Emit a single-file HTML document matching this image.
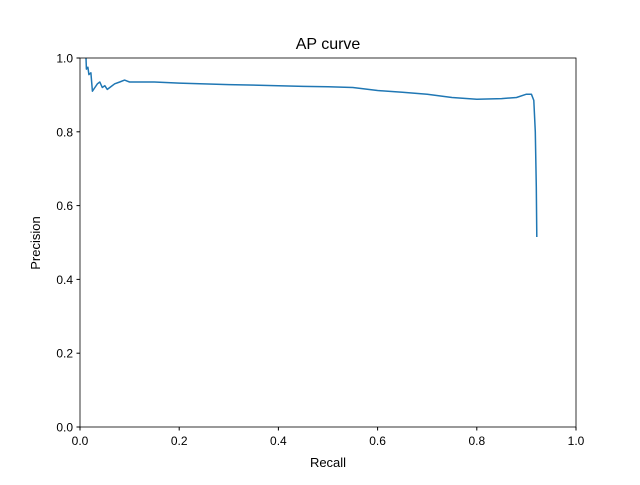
<!DOCTYPE html>
<html><head><meta charset="utf-8"><style>
body{margin:0;background:#fff}
svg text{font-family:"Liberation Sans","DejaVu Sans",sans-serif;fill:#000}
</style></head><body>
<svg id="chart" width="640" height="480" xmlns="http://www.w3.org/2000/svg">
<rect width="640" height="480" fill="#fff"/>
<g id="ticks"></g>
<path id="curve" fill="none" stroke="#1f77b4" stroke-width="1.5" stroke-linejoin="round"/>
<rect x="80" y="58" width="496" height="369" fill="none" stroke="#000" stroke-width="0.8"/>
<text x="328" y="49" font-size="16" text-anchor="middle">AP curve</text>
<text x="328" y="467" font-size="13" text-anchor="middle">Recall</text>
<text transform="translate(40,243) rotate(-90)" font-size="13" text-anchor="middle">Precision</text>
</svg>
<script>
const recall=[0.012,0.013,0.016,0.018,0.022,0.025,0.03,0.035,0.04,0.045,0.05,0.055,0.06,0.07,0.08,0.09,0.1,0.15,0.2,0.3,0.4,0.45,0.5,0.55,0.6,0.65,0.7,0.75,0.8,0.85,0.88,0.9,0.91,0.915,0.918,0.92,0.921];
const precision=[1.0,0.97,0.975,0.955,0.96,0.91,0.92,0.93,0.935,0.92,0.925,0.915,0.92,0.93,0.935,0.94,0.935,0.935,0.932,0.928,0.925,0.923,0.922,0.92,0.912,0.907,0.902,0.893,0.888,0.89,0.893,0.902,0.902,0.885,0.8,0.65,0.515];
const tickVals=[0,0.2,0.4,0.6,0.8,1.0];
const tickLabels=["0.0","0.2","0.4","0.6","0.8","1.0"];
const X=v=>80+v*496, Y=v=>427-v*369;
document.getElementById('curve').setAttribute('d',recall.map((r,i)=>(i?'L':'M')+X(r).toFixed(1)+','+Y(precision[i]).toFixed(1)).join(''));
const g=document.getElementById('ticks');const ns='http://www.w3.org/2000/svg';
tickVals.forEach((v,i)=>{
 let l=document.createElementNS(ns,'line');l.setAttribute('x1',X(v));l.setAttribute('x2',X(v));l.setAttribute('y1',427);l.setAttribute('y2',430.5);l.setAttribute('stroke','#000');
 
 g.appendChild(l);
 let t=document.createElementNS(ns,'text');t.setAttribute('x',X(v));t.setAttribute('y',445);t.setAttribute('font-size','12');t.setAttribute('text-anchor','middle');t.textContent=tickLabels[i];
 
 g.appendChild(t);
 let l2=document.createElementNS(ns,'line');l2.setAttribute('x1',76.5);l2.setAttribute('x2',80);l2.setAttribute('y1',Y(v));l2.setAttribute('y2',Y(v));l2.setAttribute('stroke','#000');
 
 g.appendChild(l2);
 let t2=document.createElementNS(ns,'text');t2.setAttribute('x',73);t2.setAttribute('y',Y(v)+4.5);t2.setAttribute('font-size','12');t2.setAttribute('text-anchor','end');t2.textContent=tickLabels[i];
 
 g.appendChild(t2);
});
</script>
</body></html>
